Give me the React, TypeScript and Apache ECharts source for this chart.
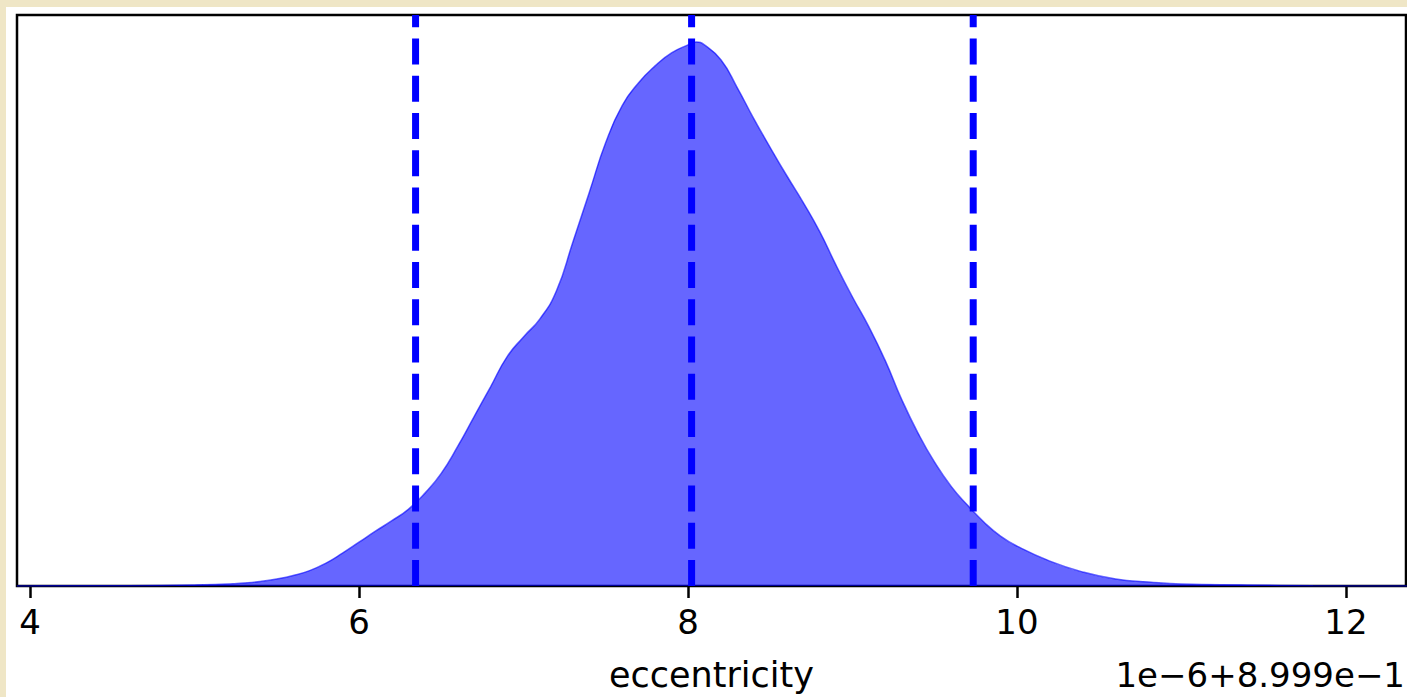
import React, { useEffect, useRef } from "react";
import * as echarts from "echarts";

// KDE curve of eccentricity (x in units of 1e-6, offset 8.999e-1)
const kdeX = [3.92, 4.4, 4.8, 5.0, 5.2, 5.3, 5.4, 5.5, 5.6, 5.7, 5.8, 5.9, 6.0, 6.1, 6.2, 6.3, 6.4, 6.5, 6.6, 6.7, 6.8, 6.9, 7.0, 7.1, 7.2, 7.3, 7.4, 7.5, 7.6, 7.7, 7.8, 7.9, 8.0, 8.05, 8.1, 8.2, 8.3, 8.4, 8.5, 8.6, 8.7, 8.8, 8.9, 9.0, 9.1, 9.2, 9.3, 9.4, 9.5, 9.6, 9.7, 9.8, 9.9, 10.0, 10.2, 10.4, 10.6, 10.8, 11.0, 11.4, 11.8, 12.37];
const kdeY = [0, 0.0001, 0.0004, 0.0008, 0.0015, 0.0023, 0.0035, 0.0054, 0.0081, 0.0119, 0.0177, 0.0254, 0.0338, 0.0423, 0.0504, 0.0592, 0.0715, 0.0869, 0.1077, 0.1308, 0.1538, 0.1769, 0.1923, 0.2062, 0.2277, 0.2654, 0.3038, 0.3423, 0.3708, 0.3885, 0.4015, 0.4115, 0.4177, 0.42, 0.4177, 0.4062, 0.3846, 0.3608, 0.3385, 0.3169, 0.2962, 0.2738, 0.2477, 0.2231, 0.2, 0.1738, 0.1438, 0.1177, 0.0954, 0.0769, 0.0623, 0.0492, 0.0385, 0.0308, 0.0192, 0.0108, 0.0054, 0.0031, 0.0015, 0.0008, 0.0002, 0];

// quantile lines (16%, 50%, 84%)
const quantiles = [6.344, 8.022, 9.734];

const xTicks = [4, 6, 8, 10, 12];
const xMin = 3.921;
const xMax = 12.365;
const yMax = 0.4408;
const xLabel = "eccentricity";
const offsetText = "1e\u22126+8.999e\u22121";

export default function App() {
  const ref = useRef<HTMLDivElement>(null);
  useEffect(() => {
    if (!ref.current) return;
    const chart = echarts.init(ref.current, null, { renderer: "svg" });
    const font = "DejaVu Sans";
    const series: any[] = [
      {
        type: "line",
        data: kdeX.map((x, i) => [x, kdeY[i]]),
        showSymbol: false,
        smooth: 0.5,
        lineStyle: { color: "rgba(0,0,255,0.6)", width: 1.5 },
        areaStyle: { color: "rgba(0,0,255,0.6)", opacity: 1 },
        z: 2,
      },
    ];
    quantiles.forEach((q) => {
      series.push({
        type: "line",
        data: [
          [q, 0],
          [q, yMax],
        ],
        showSymbol: false,
        lineStyle: { color: "#0000ff", width: 7, type: [26, 11.25], cap: "butt" },
        z: 3,
      });
    });
    chart.setOption({
      animation: false,
      backgroundColor: "#ffffff",
      textStyle: { fontFamily: font },
      grid: {
        left: 11,
        right: 1,
        top: 8,
        bottom: 109,
        show: true,
        borderColor: "#000",
        borderWidth: 2.5,
        backgroundColor: "transparent",
      },
      xAxis: {
        type: "value",
        min: xMin,
        max: xMax,
        splitLine: { show: false },
        axisLine: { show: false },
        axisTick: {
          show: true,
          customValues: xTicks,
          length: 12,
          lineStyle: { color: "#000", width: 2.5 },
        },
        axisLabel: {
          customValues: xTicks,
          color: "#000",
          fontSize: 34,
          fontFamily: font,
          margin: 19,
          formatter: (v: number) => String(v),
        },
        name: xLabel,
        nameLocation: "middle",
        nameGap: 71,
        nameTextStyle: { color: "#000", fontSize: 35, fontFamily: font },
      },
      yAxis: {
        type: "value",
        min: 0,
        max: yMax,
        show: false,
        splitLine: { show: false },
      },
      graphic: [
        {
          type: "text",
          right: 2,
          top: 651,
          style: {
            text: offsetText,
            fill: "#000",
            font: `34px "${font}"`,
          },
        },
      ],
      series,
    });
    return () => chart.dispose();
  }, []);
  return (
    <div style={{ position: "fixed", left: 0, top: 0, width: 1407, height: 697, background: "#efe6c6" }}>
      <div ref={ref} style={{ position: "absolute", left: 6, top: 7, width: 1401, height: 690 }} />
    </div>
  );
}
